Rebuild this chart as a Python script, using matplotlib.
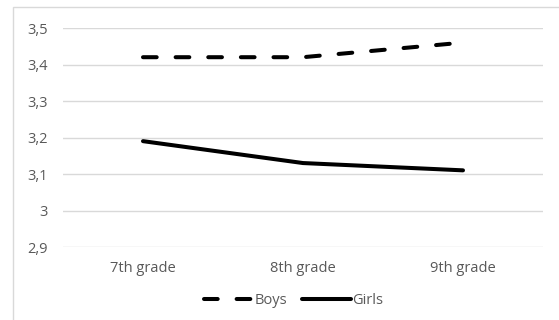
import matplotlib.pyplot as plt
from matplotlib.ticker import FuncFormatter
from matplotlib.patches import Rectangle

# promedios por grado
grades = ['7th grade', '8th grade', '9th grade']
boys = [3.42, 3.42, 3.46]
girls = [3.19, 3.13, 3.11]
y_ticks = [2.9, 3.0, 3.1, 3.2, 3.3, 3.4, 3.5]

plt.rcParams['font.family'] = ['Open Sans', 'DejaVu Sans']

fig = plt.figure(figsize=(5.59, 3.2), dpi=100)
ax = fig.add_axes([63 / 559, 1 - 247 / 320, 480 / 559, 219 / 320])

# borde del area del grafico
fig.patches.append(Rectangle((13 / 559, -0.1), 1.2, 1 - 7 / 320 + 0.1,
                             transform=fig.transFigure, fill=False,
                             edgecolor='#d9d9d9', linewidth=1))

x = range(len(grades))
ax.plot(x, boys, color='black', linewidth=2.9, linestyle=(0, (3.4, 4.7)),
        dash_capstyle='round', solid_capstyle='round', label='Boys')
ax.plot(x, girls, color='black', linewidth=2.9, solid_capstyle='round', label='Girls')

ax.set_xlim(-0.5, 2.5)
ax.set_ylim(2.9, 3.5)
ax.set_yticks(y_ticks)
ax.yaxis.set_major_formatter(FuncFormatter(lambda v, p: ('%g' % round(v, 1)).replace('.', ',')))
ax.set_xticks(list(x))
ax.set_xticklabels(grades)
ax.grid(axis='y', color='#d9d9d9', linewidth=1)
ax.set_axisbelow(True)
for s in ax.spines.values():
    s.set_visible(False)
ax.tick_params(length=0, colors='#595959', labelsize=10.5)
ax.tick_params(axis='y', pad=11)
ax.tick_params(axis='x', pad=10)

leg = ax.legend(loc='center', bbox_to_anchor=(0.48, -0.245), ncol=2, frameon=False,
                fontsize=10.5, handlelength=3.4, handletextpad=0.05, columnspacing=1.0)
for t in leg.get_texts():
    t.set_color('#595959')

fig.savefig('out.png', dpi=100)
